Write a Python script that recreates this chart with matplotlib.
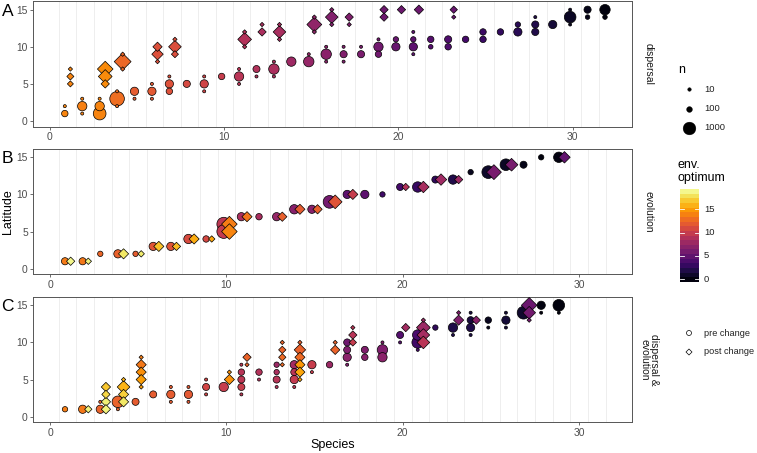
import numpy as np
import matplotlib
matplotlib.use("Agg")
import matplotlib.pyplot as plt
from matplotlib import colors as mcolors

plt.rcParams['font.family'] = ['Liberation Sans', 'DejaVu Sans']

# ---------------- data ----------------
# Panel A: dispersal
A_pre_sp = [1,1, 2,2,2, 3,3,3, 4,4,4, 5,5, 6,6,6, 7,7,7, 8, 9,9,9, 10, 11,11,11, 12,12, 13,13,13, 14, 15,15,
            16,16,16, 17,17,17, 18,18, 19,19,19, 20,20, 21,21,21,21, 22,22, 23,23, 24, 25,25, 26, 27,27,
            28,28,28, 29, 30,30,30, 31,31, 32,32]
A_pre_lat = [1,2, 2,3,1, 1,2,3, 3,4,2, 4,3, 4,5,3, 5,4,6, 5, 5,6,4, 6, 6,7,5, 7,6, 7,8,6, 8, 8,9,
             9,10,8, 9,10,8, 9,10, 10,9,11, 10,11, 10,11,12,9, 11,10, 11,10, 11, 12,11, 12, 12,13,
             13,12,14, 13, 14,15,13, 15,14, 15,14]
A_pre_n = [150,3, 450,3,3, 1000,450,3, 1400,3,3, 320,3, 320,3,3, 320,150,3, 210, 320,3,3, 150, 450,3,3, 200,3, 600,3,3, 450, 600,3,
           600,3,3, 210,3,3, 210,3, 450,150,3, 320,80, 320,80,3,3, 150,40, 210,150, 150, 150,150, 150, 320,80,
           210,210,3, 320, 800,3,3, 210,40, 600,40]
A_pre_env_by_species = {1: 14.0, 2: 13.8, 3: 13.9, 4: 12.9, 5: 12.0, 6: 11.8, 7: 11.4, 8: 10.9, 9: 10.5, 10: 10.0,
                        11: 9.3, 12: 8.9, 13: 8.6, 14: 7.9, 15: 7.5, 16: 7.0, 17: 6.5, 18: 6.2, 19: 5.7, 20: 5.3,
                        21: 4.8, 22: 4.4, 23: 4.1, 24: 3.6, 25: 3.2, 26: 2.8, 27: 2.4, 28: 2.0, 29: 1.5, 30: 0.8,
                        31: 0.4, 32: 0.0}
A_post_sp = [1,1,1, 3,3,3, 4,4,4, 6,6,6, 7,7,7, 11,11,11, 12,12, 13,13,13, 15,15,15, 16,16,16, 17,17, 19,19, 20, 21, 23,23]
A_post_lat = [6,5,7, 7,6,5, 8,9,7, 9,10,8, 10,9,11, 11,12,10, 12,13, 12,13,11, 13,14,12, 14,13,15, 14,13, 15,14, 15, 15, 15,14]
A_post_n = [60,30,3, 700,500,110, 850,3,3, 300,160,3, 400,60,3, 500,3,3, 110,3, 400,3,3, 620,3,3, 400,3,3, 110,3, 110,110, 110, 160, 70,3]
A_post_env_by_species = {1: 13.9, 3: 14.2, 4: 12.6, 6: 11.3, 7: 11.2, 11: 9.0, 12: 8.6, 13: 8.4, 15: 7.3,
                         16: 6.6, 17: 6.5, 19: 5.6, 20: 5.5, 21: 5.5, 23: 5.3}

# Panel B: evolution
B_pre_sp = [1,2,3,4,5,6,7,8,9,10,10,11,12,13,14,15,16,17,18,19,20,21,22,23,24,25,26,27,28,29]
B_pre_lat = [1,1,2,2,2,3,3,4,4,6,5,7,7,7,8,8,9,10,10,10,11,11,12,12,13,13,14,14,15,15]
B_pre_n = [210,210,80,320,80,320,320,450,150,1200,1200,320,150,320,450,320,1000,320,320,80,200,600,200,450,80,1000,800,200,80,600]
B_pre_env = [13.5,13.4,12.5,12.3,12.0,11.6,11.5,11.0,10.8,9.5,9.8,8.6,8.5,7.5,6.8,6.8,5.9,4.8,4.8,3.4,3.6,3.0,2.6,2.0,0.6,1.0,0.8,0.3,0.0,0.1]
B_post_sp = [1,2,4,5,6,7,8,9,10,10,11,13,14,15,16,17,20,21,22,23,25,26,29]
B_post_lat = [1,1,2,2,3,3,4,4,6,5,7,7,8,8,9,10,11,11,12,12,13,14,15]
B_post_n = [110,40,210,40,210,110,210,40,700,700,210,160,210,160,500,210,70,300,300,110,620,400,300]
B_post_env = [18.7,18.5,18.0,18.2,16.5,16.3,15.6,15.3,13.6,14.0,13.3,12.2,12.0,12.2,11.5,10.0,9.0,8.4,8.0,7.7,6.1,6.0,5.0]

# Panel C: dispersal & evolution
C_pre_sp = [1, 2, 3,3, 4,4, 5, 6, 7,7,7, 8,8,8, 9,9,9, 10, 11,11,11,11,11, 12,12, 13,13,13,13, 14,14,14,14, 15,15, 16,
            17,17,17,17, 18,18, 19,19,19, 20,20, 21,21,21, 22, 23,23, 24,24,24,24, 25,25, 26,26,26, 27, 28,28, 29,29]
C_pre_lat = [1, 1, 1,2, 2,1, 2, 3, 3,4,2, 3,4,2, 4,5,3, 4, 6,5,4,7,3, 6,5, 7,6,5,4, 7,6,5,4, 7,6, 7,
             10,9,8,7, 9,8, 9,8,10, 11,10, 11,10,9, 12, 12,11, 13,12,14,11, 13,12, 13,14,12, 14, 15,14, 15,14]
C_pre_n = [80, 320, 320,3, 800,3, 200, 200, 320,3,3, 320,3,3, 200,3,3, 450, 150,200,200,3,3, 150,3, 80,80,200,3, 320,200,320,3, 320,3, 150,
           200,200,320,3, 200,150, 600,450,3, 200,3, 600,800,3, 80, 450,3, 200,320,3,3, 150,3, 320,3,3, 1000, 320,3, 800,3]
C_pre_env = [13.6, 13.4, 12.4,12.4, 12.4,12.4, 12.0, 12.0, 12.0,12.0,12.0, 11.8,11.8,11.8, 10.6,10.6,10.6, 10.0,
             9.2,9.4,10.0,9.4,9.4, 9.0,9.0, 7.8,8.6,9.2,9.0, 8.2,9.3,9.8,9.5, 10.0,10.0, 7.8,
             5.6,6.4,7.0,6.5, 6.4,6.8, 6.4,7.0,6.5, 4.3,4.3, 3.9,3.4,3.5, 2.7, 1.9,1.9, 1.6,1.9,1.6,1.8,
             0.6,0.6, 1.4,1.4,1.4, 1.1, 0.1,0.1, 0.0,0.0]
C_post_sp = [2, 3,3,3,3, 4,4,4,4, 5,5,5,5,5, 10,10, 11,11, 13,13,13,13, 14,14,14,14,14,14, 16,16, 17,17,17, 20,
             21,21,21,21, 23,23, 24, 27,27,27]
C_post_lat = [1, 4,3,2,1, 5,4,3,2, 8,7,6,5,4, 5,6, 8,7, 9,8,10,7, 9,8,7,6,10,5, 9,10, 11,10,12, 12,
              12,11,10,13, 13,14, 13, 15,14,13]
C_post_n = [70, 160,110,160,160, 3,400,210,210, 3,210,210,210,3, 210,3, 110,3, 70,70,3,3, 300,210,210,210,3,3, 160,3, 110,70,3, 110,
            500,400,400,3, 210,3, 110, 700,400,3]
C_post_env = [18.5, 16.7,17.3,18.3,18.5, 16.0,15.9,17.0,18.0, 13.6,13.4,14.4,15.0,15.0, 14.5,14.5, 12.4,12.4,
              12.4,12.8,12.4,12.8, 12.3,12.8,14.8,15.4,12.3,15.4, 12.4,12.4, 9.2,9.9,9.2, 8.2,
              7.8,8.3,9.3,7.8, 6.4,6.4, 7.0, 5.4,5.8,5.8]

panel_titles = ["dispersal", "evolution", "dispersal &\nevolution"]
panel_letters = ["A", "B", "C"]
size_breaks = [10, 100, 1000]
env_breaks = [0, 5, 10, 15]
shape_labels = ["pre change", "post change"]
ENV_MIN, ENV_MAX = -0.5, 19.3
N_MAX = 1500

# ---------------- figure ----------------
W, H = 757, 453
fig = plt.figure(figsize=(W / 100, H / 100), dpi=100)


def rect(l, t, r, b):
    return [l / W, 1 - b / H, (r - l) / W, (b - t) / H]


cmap = plt.get_cmap("inferno")
norm = mcolors.Normalize(vmin=ENV_MIN, vmax=ENV_MAX)


def size_pts2(n):
    d_px = 2.5 * (1 + 5 * np.sqrt(np.asarray(n, float) / N_MAX))
    return (d_px * 0.72) ** 2


def draw(ax, sp, lat, n, env, marker, offset):
    sp = np.asarray(sp, float); lat = np.asarray(lat, float)
    n = np.asarray(n, float); env = np.asarray(env, float)
    assert len(sp) == len(lat) == len(n) == len(env), (len(sp), len(lat), len(n), len(env))
    order = np.argsort(-n, kind="stable")
    ax.scatter(sp[order] + offset, lat[order], s=size_pts2(n[order]),
               c=cmap(norm(env[order])), marker=marker, edgecolors="black",
               linewidths=0.5, zorder=3)


PRE_OFF, POST_OFF = -0.15, 0.17

panels = [
    dict(rect=(33, 1.0, 632, 126.7), xlim=(-0.975, 33.4),
         pre=(A_pre_sp, A_pre_lat, A_pre_n, [A_pre_env_by_species[s] for s in A_pre_sp]),
         post=(A_post_sp, A_post_lat, A_post_n, [A_post_env_by_species[s] for s in A_post_sp])),
    dict(rect=(33, 148.6, 632, 274.4), xlim=(-0.965, 33.0),
         pre=(B_pre_sp, B_pre_lat, B_pre_n, B_pre_env),
         post=(B_post_sp, B_post_lat, B_post_n, B_post_env)),
    dict(rect=(33, 296.6, 632, 422.4), xlim=(-0.965, 33.0),
         pre=(C_pre_sp, C_pre_lat, C_pre_n, C_pre_env),
         post=(C_post_sp, C_post_lat, C_post_n, C_post_env)),
]

for i, p in enumerate(panels):
    l, t, r, b = p["rect"]
    ax = fig.add_axes(rect(l, t, r, b))
    ax.set_xlim(*p["xlim"])
    ax.set_ylim(-0.77, 16.17)
    for g in np.arange(0.5, 32.0, 1.0):
        ax.axvline(g, color="#EBEBEB", lw=0.6, zorder=1)
    draw(ax, *p["pre"], marker="o", offset=PRE_OFF)
    draw(ax, *p["post"], marker="D", offset=POST_OFF)
    ax.set_xticks([0, 10, 20, 30])
    ax.set_yticks([0, 5, 10, 15])
    ax.tick_params(labelsize=7.4, labelcolor="#4D4D4D", color="#333333",
                   length=2.2, width=0.5, pad=1.5)
    for s in ax.spines.values():
        s.set_color("#555555")
        s.set_linewidth(0.7)
    fig.text(649 / W, 1 - ((t + b) / 2) / H, panel_titles[i], rotation=-90,
             ha="center", va="center", fontsize=7.5, color="#1A1A1A",
             multialignment="center", linespacing=1.0)
    fig.text(1.5 / W, 1 - (t + 10) / H, panel_letters[i], ha="left", va="center",
             fontsize=12.5, color="black")

fig.text(8 / W, 1 - 211.5 / H, "Latitude", rotation=90, ha="center", va="center", fontsize=9)
fig.text(332.5 / W, 1 - 445 / H, "Species", ha="center", va="center", fontsize=9)

# ---------------- legends ----------------
lax = fig.add_axes([0, 0, 1, 1], zorder=-1)
lax.set_xlim(0, W); lax.set_ylim(H, 0); lax.axis("off")

lax.text(678, 70, "n", ha="left", va="center", fontsize=9)
for k, v in enumerate(size_breaks):
    y = 89.3 + 19.2 * k
    lax.scatter([689], [y], s=size_pts2([v]), color="black", edgecolors="black", linewidths=0.3)
    lax.text(704, y, str(v), ha="left", va="center", fontsize=6.8, color="#222222")

lax.text(677, 165, "env.", ha="left", va="center", fontsize=9)
lax.text(677, 178.3, "optimum", ha="left", va="center", fontsize=9)

cb_top, cb_bot = 189.0, 281.7
cax = fig.add_axes(rect(680, cb_top, 699, cb_bot))
edges = np.linspace(ENV_MIN, ENV_MAX, 21)
centers = (edges[:-1] + edges[1:]) / 2
cax.imshow(centers[:, None], cmap=cmap, norm=norm, origin="lower", aspect="auto",
           extent=[0, 1, ENV_MIN, ENV_MAX], interpolation="nearest")
for v in env_breaks:
    cax.plot([0, 0.2], [v, v], color="white", lw=0.6)
    cax.plot([0.8, 1], [v, v], color="white", lw=0.6)
    ypix = cb_bot - (v - ENV_MIN) / (ENV_MAX - ENV_MIN) * (cb_bot - cb_top)
    lax.text(704, ypix, str(v), ha="left", va="center", fontsize=6.8, color="#222222")
cax.set_xlim(0, 1); cax.set_ylim(ENV_MIN, ENV_MAX)
cax.axis("off")

for k, (lab, mk, nn) in enumerate(zip(shape_labels, ["o", "D"], [60, 30])):
    y = 333 + 19 * k
    lax.scatter([689], [y], s=size_pts2([nn]), marker=mk, facecolors="none",
                edgecolors="black", linewidths=0.5)
    lax.text(703.5, y, lab, ha="left", va="center", fontsize=6.6, color="#222222")

fig.savefig("out.png", dpi=100)
